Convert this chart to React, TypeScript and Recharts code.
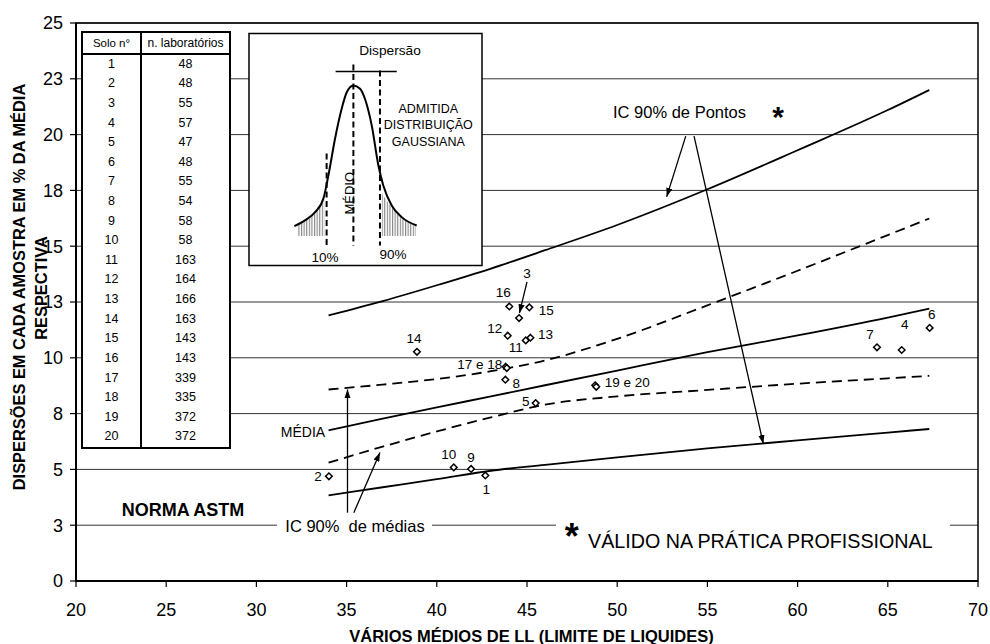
import React from 'react';
import {
  ComposedChart,
  Line,
  Scatter,
  Area,
  XAxis,
  YAxis,
  CartesianGrid,
  ReferenceArea,
  ReferenceLine,
} from 'recharts';

const FONTE = "'Liberation Sans', Arial, Helvetica, sans-serif";

// solos ensaiados: LL médio e dispersão (% da média) de cada amostra
const SOLOS = [1, 2, 3, 4, 5, 6, 7, 8, 9, 10, 11, 12, 13, 14, 15, 16, 17, 18, 19, 20];
const LL_MEDIO = [42.69, 34.02, 44.56, 65.77, 45.48, 67.32, 64.4, 43.8, 41.9, 40.94, 44.93, 43.93, 45.19, 38.9, 45.13, 44.02, 43.82, 43.88, 48.78, 48.84];
const DISPERSAO = [4.73, 4.69, 11.78, 10.35, 7.97, 11.34, 10.47, 9.02, 5.02, 5.09, 10.78, 10.99, 10.9, 10.27, 12.26, 12.3, 9.6, 9.54, 8.77, 8.7];
const ROTULOS = ['1', '2', '3', '4', '5', '6', '7', '8', '9', '10', '11', '12', '13', '14', '15', '16', '17 e 18', '', '19 e 20', ''];
const N_LABORATORIOS = [48, 48, 55, 57, 47, 48, 55, 54, 58, 58, 163, 164, 166, 163, 143, 143, 339, 335, 372, 372];

// curvas de ajuste amostradas ao longo do LL
const LL_CURVA = [34, 37, 40, 43, 46, 50, 55, 60, 65, 67.3];
const MEDIA = [6.75, 7.27, 7.78, 8.27, 8.77, 9.43, 10.25, 11.0, 11.8, 12.2];
const IC_PONTOS_SUP = [11.9, 12.54, 13.25, 14.0, 14.82, 15.95, 17.55, 19.3, 21.1, 22.0];
const IC_PONTOS_INF = [3.84, 4.2, 4.56, 4.94, 5.2, 5.54, 5.94, 6.3, 6.65, 6.81];
const IC_MEDIAS_SUP = [8.58, 8.8, 9.05, 9.4, 9.88, 10.85, 12.35, 13.9, 15.5, 16.24];
const IC_MEDIAS_INF = [5.3, 6.02, 6.7, 7.33, 7.9, 8.27, 8.56, 8.84, 9.08, 9.19];

const X_TICKS = [20, 25, 30, 35, 40, 45, 50, 55, 60, 65, 70];
const Y_TICKS = [0, 2.5, 5, 7.5, 10, 12.5, 15, 17.5, 20, 22.5, 25];

// esquema da distribuição gaussiana (unidades arbitrárias 0-100)
const GAUSS_X = [11.3, 16.7, 21.9, 26.1, 28.7, 32.1, 35.5, 38.1, 41.5, 44.9, 47.4, 50.9, 54.3, 56.8, 61.1, 66.2, 73.9];
const GAUSS_Y = [8.2, 11.1, 15.3, 22.1, 34.0, 52.8, 68.1, 76.5, 80.0, 78.3, 73.2, 59.5, 39.1, 28.9, 18.7, 12.8, 8.5];
const CAUDA_ESQ_X = [13, 16.7, 21.9, 26.6];
const CAUDA_ESQ_Y = [9.0, 10.8, 14.6, 22.0];
const CAUDA_DIR_X = [56, 61.1, 66.2, 73.4];
const CAUDA_DIR_Y = [25.0, 17.8, 12.2, 8.2];

// deslocamento (px) de cada rótulo em relação ao seu ponto
const ROTULO_DESLOC: [number, number][] = [
  [1, 13.5], [-11, 0], [8, -45], [3, -26], [-10, -2], [2, -14], [-7, -13], [11, 4], [0, -12], [-5, -13],
  [-10, 7], [-13, -7], [15, -3], [-3, -13], [17, 3], [-6, -14], [-26, -2], [0, 0], [32, -3], [0, 0],
];

// setas de anotação, em coordenadas do gráfico
const SETAS = [
  [{ x: 45.0, y: 13.4 }, { x: 44.58, y: 12.0 }],
  [{ x: 53.8, y: 19.93 }, { x: 52.74, y: 17.21 }],
  [{ x: 54.26, y: 19.93 }, { x: 58.1, y: 6.14 }],
  [{ x: 35.05, y: 3.06 }, { x: 35.05, y: 8.58 }],
  [{ x: 35.4, y: 3.06 }, { x: 36.85, y: 5.76 }],
];

const pontos = SOLOS.map((s, i) => ({ ll: LL_MEDIO[i], disp: DISPERSAO[i], solo: s, rotulo: ROTULOS[i] }));
const curva = (valores: number[]) => LL_CURVA.map((x, i) => ({ ll: x, disp: valores[i] }));
const serie = (xs: number[], ys: number[]) => xs.map((x, i) => ({ x, y: ys[i] }));

const Losango = (props: any) => {
  const { cx, cy, payload } = props;
  if (cx == null || cy == null) return null;
  const r = 3.3;
  const [dx, dy] = ROTULO_DESLOC[payload.solo - 1];
  return (
    <g>
      <path
        d={`M${cx},${cy - r}L${cx + r},${cy}L${cx},${cy + r}L${cx - r},${cy}Z`}
        fill="#fff"
        stroke="#000"
        strokeWidth={1.5}
      />
      {payload.rotulo && (
        <text x={cx + dx} y={cy + dy} dy="0.35em" textAnchor="middle" fontSize={13.5} fontFamily={FONTE} fill="#000">
          {payload.rotulo}
        </text>
      )}
    </g>
  );
};

const Gaussiana = () => (
  <ComposedChart width={233} height={232} margin={{ top: 12.2, right: 14.3, bottom: 23.8, left: 23.3 }}>
    <XAxis type="number" dataKey="x" domain={[0, 100]} tick={false} tickLine={false} height={0} axisLine={{ stroke: '#000', strokeWidth: 2 }} />
    <YAxis type="number" dataKey="y" domain={[0, 100]} tick={false} tickLine={false} width={0} axisLine={{ stroke: '#000', strokeWidth: 2 }} />
    <Area data={serie(CAUDA_ESQ_X, CAUDA_ESQ_Y)} dataKey="y" type="monotone" baseValue={3.1} stroke="none" fill="url(#hachura)" fillOpacity={1} isAnimationActive={false} />
    <Area data={serie(CAUDA_DIR_X, CAUDA_DIR_Y)} dataKey="y" type="monotone" baseValue={3.1} stroke="none" fill="url(#hachura)" fillOpacity={1} isAnimationActive={false} />
    <Line data={serie(GAUSS_X, GAUSS_Y)} dataKey="y" type="monotone" stroke="#000" strokeWidth={2} dot={false} activeDot={false} isAnimationActive={false} />
    <ReferenceLine segment={[{ x: 27.8, y: 45.3 }, { x: 27.8, y: -1.7 }]} stroke="#000" strokeWidth={2} strokeDasharray="6 3.5" ifOverflow="visible" />
    <ReferenceLine segment={[{ x: 41.5, y: 90.7 }, { x: 41.5, y: -1.7 }]} stroke="#000" strokeWidth={2} strokeDasharray="6 3.5" ifOverflow="visible" />
    <ReferenceLine segment={[{ x: 55.1, y: 87.6 }, { x: 55.1, y: -1.7 }]} stroke="#000" strokeWidth={2} strokeDasharray="6 3.5" ifOverflow="visible" />
    <ReferenceLine segment={[{ x: 32.4, y: 87.1 }, { x: 63.7, y: 87.1 }]} stroke="#000" strokeWidth={1.5} ifOverflow="visible" />
  </ComposedChart>
);

const Tabela = () => (
  <g fontFamily={FONTE} fill="#000" textAnchor="middle">
    <rect x={82} y={32} width={148} height={416} fill="#fff" stroke="#000" strokeWidth={2} />
    <line x1={141} y1={32} x2={141} y2={448} stroke="#000" strokeWidth={2} />
    <line x1={82} y1={54} x2={230} y2={54} stroke="#000" strokeWidth={2} />
    <text x={111.5} y={43} dy="0.35em" fontSize={11.5}>Solo n°</text>
    <text x={185.5} y={43} dy="0.35em" fontSize={12}>n. laboratórios</text>
    {SOLOS.map((s, i) => (
      <g key={s}>
        <text x={111.5} y={63.3 + i * 19.62} dy="0.35em" fontSize={12.5}>{s}</text>
        <text x={185.5} y={63.3 + i * 19.62} dy="0.35em" fontSize={12.5}>{N_LABORATORIOS[i]}</text>
      </g>
    ))}
  </g>
);

export default function App() {
  return (
    <div style={{ position: 'absolute', left: 0, top: 0, width: 990, height: 644, background: '#fff' }}>
      <svg width={0} height={0} style={{ position: 'absolute' }}>
        <defs>
          <marker id="seta" viewBox="0 0 10 7" refX={10} refY={3.5} markerWidth={9} markerHeight={6.3} markerUnits="userSpaceOnUse" orient="auto">
            <path d="M0,0L10,3.5L0,7Z" fill="#000" />
          </marker>
          <pattern id="hachura" width={2.6} height={4} patternUnits="userSpaceOnUse">
            <line x1={0.6} y1={0} x2={0.6} y2={4} stroke="#777" strokeWidth={1} />
          </pattern>
        </defs>
      </svg>

      <ComposedChart width={990} height={644} margin={{ top: 23, right: 12, bottom: 23, left: 0 }}>
        <CartesianGrid vertical={false} stroke="#333" strokeWidth={1} />
        <ReferenceArea x1={20} x2={70} y1={0} y2={25} fill="none" stroke="#000" strokeWidth={1.5} />
        <XAxis
          type="number"
          dataKey="ll"
          domain={[20, 70]}
          ticks={X_TICKS}
          interval={0}
          height={40}
          tickSize={6}
          tickMargin={16}
          axisLine={{ stroke: '#000', strokeWidth: 2 }}
          tickLine={{ stroke: '#000', strokeWidth: 1.2 }}
          tick={{ fill: '#000', fontSize: 18, fontFamily: FONTE }}
        />
        <YAxis
          type="number"
          dataKey="disp"
          domain={[0, 25]}
          ticks={Y_TICKS}
          interval={0}
          width={76}
          tickSize={6}
          tickMargin={7}
          tickFormatter={(v: number) => String(Math.round(v))}
          axisLine={{ stroke: '#000', strokeWidth: 2 }}
          tickLine={{ stroke: '#000', strokeWidth: 1.2 }}
          tick={{ fill: '#000', fontSize: 18, fontFamily: FONTE }}
        />
        <Line data={curva(IC_PONTOS_SUP)} dataKey="disp" type="monotone" stroke="#000" strokeWidth={1.8} dot={false} activeDot={false} isAnimationActive={false} />
        <Line data={curva(IC_MEDIAS_SUP)} dataKey="disp" type="monotone" stroke="#000" strokeWidth={1.8} strokeDasharray="10 6" dot={false} activeDot={false} isAnimationActive={false} />
        <Line data={curva(MEDIA)} dataKey="disp" type="monotone" stroke="#000" strokeWidth={1.8} dot={false} activeDot={false} isAnimationActive={false} />
        <Line data={curva(IC_MEDIAS_INF)} dataKey="disp" type="monotone" stroke="#000" strokeWidth={1.8} strokeDasharray="10 6" dot={false} activeDot={false} isAnimationActive={false} />
        <Line data={curva(IC_PONTOS_INF)} dataKey="disp" type="monotone" stroke="#000" strokeWidth={1.8} dot={false} activeDot={false} isAnimationActive={false} />
        {SETAS.map((s, i) => (
          <ReferenceLine key={i} segment={s} stroke="#000" strokeWidth={1.3} markerEnd="url(#seta)" ifOverflow="visible" />
        ))}
        <Scatter data={pontos} dataKey="disp" shape={(p: any) => <Losango {...p} />} isAnimationActive={false} />
      </ComposedChart>

      <div style={{ position: 'absolute', left: 249, top: 33.5, width: 233, height: 232, background: '#fff' }}>
        <Gaussiana />
      </div>

      <svg width={990} height={644} style={{ position: 'absolute', left: 0, top: 0, pointerEvents: 'none' }}>
        <Tabela />
        <rect x={249} y={33.5} width={233} height={232} fill="none" stroke="#000" strokeWidth={1.5} />

        <g fontFamily={FONTE} fill="#000">
          <text x={390} y={50} dy="0.35em" textAnchor="middle" fontSize={13.7}>Dispersão</text>
          <text x={428.3} y={108.3} dy="0.35em" textAnchor="middle" fontSize={12.5}>ADMITIDA</text>
          <text x={428.3} y={125} dy="0.35em" textAnchor="middle" fontSize={12.5}>DISTRIBUIÇÃO</text>
          <text x={428.3} y={141.7} dy="0.35em" textAnchor="middle" fontSize={12.5}>GAUSSIANA</text>
          <text transform="translate(349,193.3) rotate(-90)" dy="0.35em" textAnchor="middle" fontSize={13}>MÉDIO</text>
          <text x={325} y={257.3} dy="0.35em" textAnchor="middle" fontSize={13.5}>10%</text>
          <text x={393} y={254.3} dy="0.35em" textAnchor="middle" fontSize={13.5}>90%</text>

          <text x={613} y={112.7} dy="0.35em" fontSize={16.5}>IC 90% de Pontos</text>
          <text x={778} y={126.8} textAnchor="middle" fontSize={30} fontWeight="bold">*</text>
          <text x={303} y={432} dy="0.35em" textAnchor="middle" fontSize={14}>MÉDIA</text>
          <text x={183} y={510} dy="0.35em" textAnchor="middle" fontSize={18} fontWeight="bold">NORMA ASTM</text>

          <rect x={277} y={518} width={155} height={16} fill="#fff" />
          <text x={355} y={526.7} dy="0.35em" textAnchor="middle" fontSize={16.5} style={{ whiteSpace: 'pre' }}>IC 90%  de médias</text>
          <rect x={556} y={518} width={394} height={16} fill="#fff" />
          <text x={571.7} y={548.5} textAnchor="middle" fontSize={36} fontWeight="bold">*</text>
          <text x={588} y={540.7} dy="0.35em" fontSize={19.7}>VÁLIDO NA PRÁTICA PROFISSIONAL</text>

          <text transform="translate(19.5,287) rotate(-90)" dy="0.35em" textAnchor="middle" fontSize={16.4} fontWeight="bold">
            DISPERSÕES EM CADA AMOSTRA EM % DA MÉDIA
          </text>
          <text transform="translate(41,288) rotate(-90)" dy="0.35em" textAnchor="middle" fontSize={16.4} fontWeight="bold">
            RESPECTIVA
          </text>
          <text x={531.5} y={636} dy="0.35em" textAnchor="middle" fontSize={16.5} fontWeight="bold">
            VÁRIOS MÉDIOS DE LL (LIMITE DE LIQUIDES)
          </text>
        </g>
      </svg>
    </div>
  );
}
